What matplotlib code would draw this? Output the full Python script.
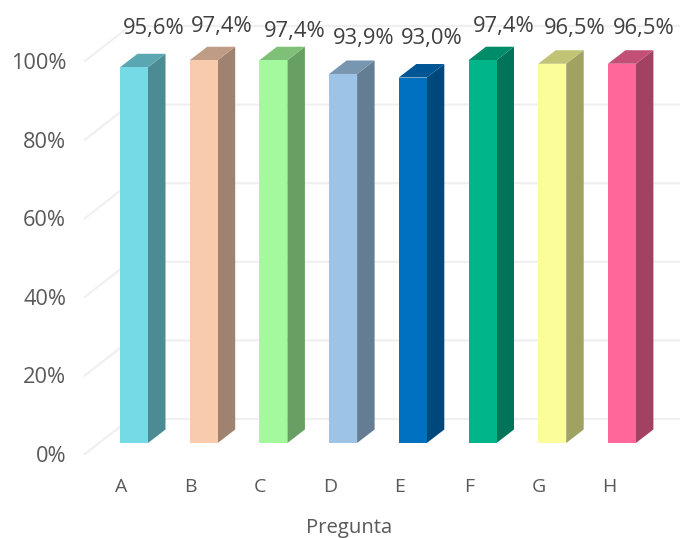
import matplotlib
matplotlib.use("Agg")
import matplotlib.pyplot as plt
from matplotlib.colors import to_rgb

categories = ["A", "B", "C", "D", "E", "F", "G", "H"]
values = [95.6, 97.4, 97.4, 93.9, 93.0, 97.4, 96.5, 96.5]
value_labels = ["95,6%", "97,4%", "97,4%", "93,9%", "93,0%", "97,4%", "96,5%", "96,5%"]
colors = ["#76D9E6", "#F8CBAD", "#A3F99B", "#9DC3E6", "#0070C0", "#00B589", "#FAFD99", "#FF6699"]
y_ticks = [0, 20, 40, 60, 80, 100]

# label nudges from the bar top (pixels)
label_dx = [20, 18, 21.5, 21, 18.5, 21, 23, 22]
label_dy = [38.6, 33.5, 28.5, 35, 39, 33.5, 35, 35]

W, H = 680, 538
PX_Y = 3.93      # pixels per percent
PX_X = 69.7      # pixels per category
X0 = 85          # left edge of axes, px
Y0 = 454         # y px of 0 %
FIRST = 121      # px of first category tick

plt.rcParams["font.family"] = ["Open Sans", "DejaVu Sans"]
fig = plt.figure(figsize=(W / 100, H / 100), dpi=100, facecolor="white")
ax = fig.add_axes([X0 / W, (H - Y0) / H, (W - X0) / W, Y0 / H])
ax.set_xlim((X0 - FIRST) / PX_X, (W - FIRST) / PX_X)
ax.set_ylim(0, Y0 / PX_Y)
for s in ax.spines.values():
    s.set_visible(False)

# floor / back wall geometry in data units
wall_dx, wall_dy = 45 / PX_X, 35 / PX_Y
grid_c = "#F0F0F0"
xl = ax.get_xlim()
for t in y_ticks:
    ax.plot([xl[0], xl[0] + wall_dx, xl[1]], [t, t + wall_dy, t + wall_dy],
            color=grid_c, lw=1.6, zorder=1, clip_on=False, solid_joinstyle="miter")

bar_w = 28 / PX_X
bar_left = -1 / PX_X
base = 11 / PX_Y
dx, dy = 17.5 / PX_X, 13.5 / PX_Y


def shade(c, f):
    return tuple(v * f for v in to_rgb(c))


for i, (v, c) in enumerate(zip(values, colors)):
    l = i + bar_left
    r = l + bar_w
    top = base + v
    ax.fill([r, r + dx, r + dx, r], [base, base + dy, top + dy, top],
            color=shade(c, 0.64), lw=0, zorder=3, clip_on=False)
    ax.fill([l, r, r + dx, l + dx], [top, top, top + dy, top + dy],
            color=shade(c, 0.77), lw=0, zorder=3, clip_on=False)
    ax.bar(l, v, width=bar_w, bottom=base, align="edge", color=c, lw=0, zorder=4)
    ax.annotate(value_labels[i], xy=((l + r) / 2, top), xycoords="data",
                xytext=(label_dx[i] * 0.72, label_dy[i] * 0.72), textcoords="offset points",
                ha="center", va="center", fontsize=15.8, color="#404040", zorder=5,
                annotation_clip=False)

ax.set_xticks(range(len(categories)))
ax.set_xticklabels(categories)
ax.set_yticks(y_ticks)
ax.set_yticklabels([f"{t}%" for t in y_ticks])
ax.tick_params(axis="x", length=0, pad=17.5, labelsize=14, labelcolor="#595959")
ax.tick_params(axis="y", length=0, pad=13.5, labelsize=15.7, labelcolor="#595959")
ax.set_xlabel("Pregunta", fontsize=14.6, color="#595959")
ax.xaxis.set_label_coords((349 - X0) / (W - X0), -(528 - Y0) / Y0)
ax.xaxis.label.set_va("center")

fig.savefig("out.png", dpi=100, facecolor="white")
